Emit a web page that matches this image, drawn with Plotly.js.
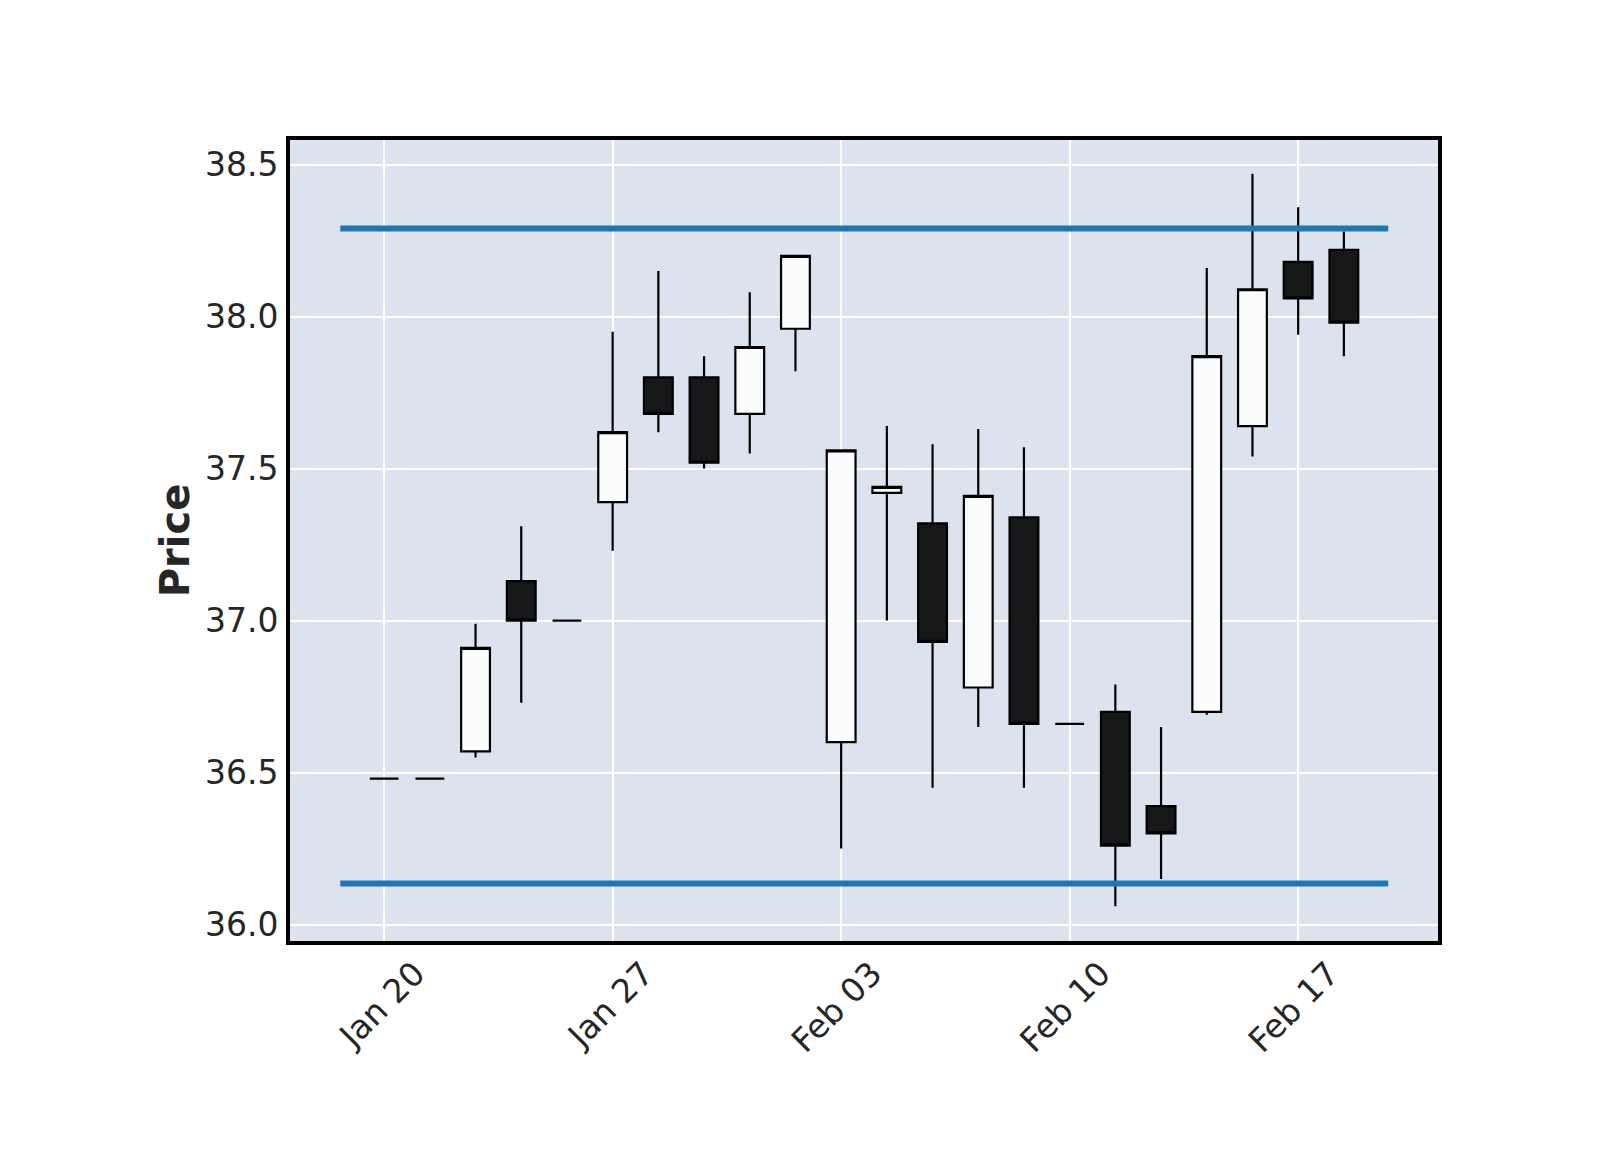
<!DOCTYPE html>
<html>
<head>
<meta charset="utf-8">
<script src="https://cdn.plot.ly/plotly-3.0.1.min.js"></script>
<style>html,body{margin:0;padding:0;background:#fff;}#chart{width:1600px;height:1150px;}</style>
</head>
<body>
<div id="chart"></div>
<script>
// Trading days (no gaps for non-trading days)
const dates = ['2020-01-20','2020-01-21','2020-01-22','2020-01-23','2020-01-24',
               '2020-01-27','2020-01-28','2020-01-29','2020-01-30','2020-01-31',
               '2020-02-03','2020-02-04','2020-02-05','2020-02-06','2020-02-07',
               '2020-02-10','2020-02-11','2020-02-12','2020-02-13','2020-02-14',
               '2020-02-17','2020-02-18'];
const openP  = [36.48, 36.48, 36.57, 37.13, 37.00, 37.39, 37.80, 37.80, 37.68, 37.96, 36.60, 37.42, 37.32, 36.78, 37.34, 36.66, 36.70, 36.39, 36.70, 37.64, 38.18, 38.22];
const highP  = [36.48, 36.48, 36.99, 37.31, 37.00, 37.95, 38.15, 37.87, 38.08, 38.20, 37.56, 37.64, 37.58, 37.63, 37.57, 36.66, 36.79, 36.65, 38.16, 38.47, 38.36, 38.28];
const lowP   = [36.48, 36.48, 36.55, 36.73, 37.00, 37.23, 37.62, 37.50, 37.55, 37.82, 36.25, 37.00, 36.45, 36.65, 36.45, 36.66, 36.06, 36.15, 36.69, 37.54, 37.94, 37.87];
const closeP = [36.48, 36.48, 36.91, 37.00, 37.00, 37.62, 37.68, 37.52, 37.90, 38.20, 37.56, 37.44, 36.93, 37.41, 36.66, 36.66, 36.26, 36.30, 37.87, 38.09, 38.06, 37.98];
const tickIdx    = [0, 5, 10, 15, 20];
const tickLabels = ['Jan 20', 'Jan 27', 'Feb 03', 'Feb 10', 'Feb 17'];
const hlineValues = [38.29, 36.135];
const yTicks = [36.0, 36.5, 37.0, 37.5, 38.0, 38.5];

const xIdx = dates.map((d, i) => i);
const hlineX = [-0.96, 21.97];

const traces = [{
  type: 'candlestick',
  x: xIdx,
  open: openP, high: highP, low: lowP, close: closeP,
  increasing: {fillcolor: '#fbfcfd', line: {color: '#000000', width: 2.2}},
  decreasing: {fillcolor: '#161718', line: {color: '#000000', width: 2.2}},
  whiskerwidth: 0,
  showlegend: false,
  hoverinfo: 'skip'
}];
hlineValues.forEach(v => {
  traces.push({
    type: 'scatter', mode: 'lines',
    x: hlineX, y: [v, v],
    line: {color: '#1f77b4', width: 6},
    showlegend: false, hoverinfo: 'skip'
  });
});

const tickFont = {family: 'DejaVu Sans', size: 33, color: '#262626'};
const layout = {
  width: 1600, height: 1150,
  paper_bgcolor: '#ffffff',
  plot_bgcolor: '#DCE3EF',
  margin: {l: 290, r: 162, t: 140, b: 209},
  boxgap: 0.37, boxgroupgap: 0,
  showlegend: false,
  xaxis: {
    type: 'linear',
    range: [-2.06, 23.06],
    tickvals: tickIdx, ticktext: tickLabels,
    tickangle: -45,
    tickfont: tickFont,
    showgrid: true, gridcolor: '#ffffff', gridwidth: 2,
    zeroline: false,
    showline: true, linecolor: '#000000', linewidth: 4, mirror: true,
    ticks: '',
    ticklabelshift: 31,
    ticklabelstandoff: -4,
    rangeslider: {visible: false},
    fixedrange: true
  },
  yaxis: {
    range: [35.946, 38.581],
    tickvals: yTicks,
    tickformat: '.1f',
    tickfont: tickFont,
    showgrid: true, gridcolor: '#ffffff', gridwidth: 2,
    zeroline: false,
    showline: true, linecolor: '#000000', linewidth: 4, mirror: true,
    ticks: '',
    ticklabelstandoff: 1,
    title: {text: 'Price', font: {family: 'DejaVu Sans', size: 40, color: '#262626', weight: 'bold'}, standoff: 4},
    fixedrange: true
  }
};

Plotly.newPlot('chart', traces, layout, {displayModeBar: false, staticPlot: true});
</script>
</body>
</html>
